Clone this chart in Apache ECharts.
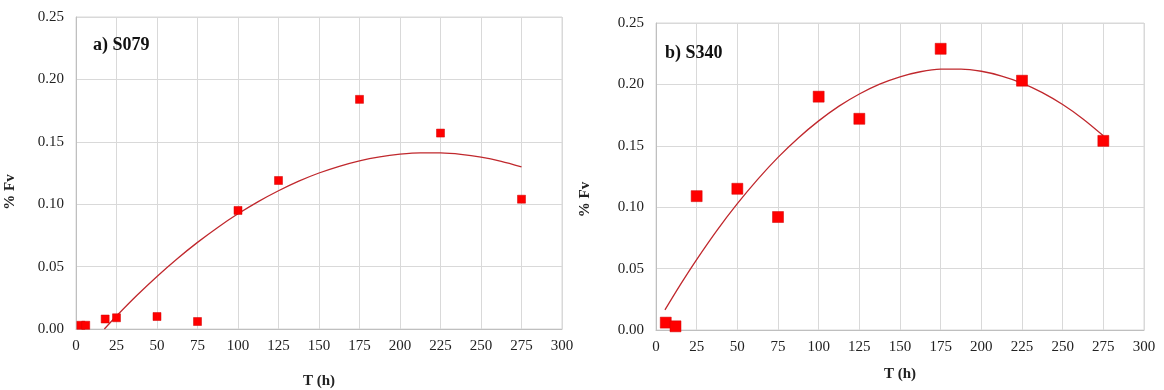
<!DOCTYPE html>
<html>
<head>
<meta charset="utf-8">
<script src="https://cdn.jsdelivr.net/npm/echarts@6/dist/echarts.min.js"></script>
<style>
html,body{margin:0;padding:0;background:#fff;}
#chart{width:1164px;height:390px;}
</style>
</head>
<body>
<div id="chart"></div>
<script>
// Panel a) S079
const tA = [3, 6, 18, 25, 50, 75, 100, 125, 175, 225, 275];
const fvA = [0.003, 0.003, 0.008, 0.009, 0.010, 0.006, 0.095, 0.119, 0.184, 0.157, 0.104];
// trend curve
const trendTA = [17.5, 25, 37.5, 50, 62.5, 75, 87.5, 100, 112.5, 125, 137.5, 150, 162.5, 175, 187.5, 200, 212.5, 225, 237.5, 250, 262.5, 275];
const trendFvA = [0.0000, 0.0104, 0.0268, 0.0421, 0.0563, 0.0694, 0.0814, 0.0923, 0.1021, 0.1108, 0.1185, 0.1250, 0.1304, 0.1348, 0.1380, 0.1401, 0.1412, 0.1411, 0.1400, 0.1378, 0.1344, 0.1300];

// Panel b) S340
const tB = [6, 12, 25, 50, 75, 100, 125, 175, 225, 275];
const fvB = [0.006, 0.003, 0.109, 0.115, 0.092, 0.190, 0.172, 0.229, 0.203, 0.154];
const trendTB = [5.5, 15, 25, 37.5, 50, 62.5, 75, 87.5, 100, 112.5, 125, 137.5, 150, 162.5, 175, 187.5, 200, 212.5, 225, 237.5, 250, 262.5, 275];
const trendFvB = [0.0164, 0.0370, 0.0574, 0.0812, 0.1029, 0.1227, 0.1406, 0.1564, 0.1703, 0.1823, 0.1922, 0.2002, 0.2062, 0.2103, 0.2124, 0.2125, 0.2107, 0.2068, 0.2011, 0.1933, 0.1836, 0.1719, 0.1582];

const titles = ['a) S079', 'b) S340'];
const xName = 'T (h)';
const yName = '% Fv';

const serif = '"Liberation Serif", "DejaVu Serif", serif';
const pairs = (xs, ys) => xs.map((x, i) => [x, ys[i]]);

function xAxisCfg(gi, gap) {
  return {
    type: 'value', gridIndex: gi, min: 0, max: 300, interval: 25,
    name: xName, nameLocation: 'middle', nameGap: gap,
    nameTextStyle: {fontFamily: serif, fontWeight: 'bold', fontSize: 15, color: '#222'},
    axisLine: {show: true, lineStyle: {color: '#bfbfbf', width: 1}},
    axisTick: {show: false},
    axisLabel: {fontFamily: serif, fontSize: 15, color: '#222', margin: 10},
    splitLine: {show: true, lineStyle: {color: '#d9d9d9', width: 1}}
  };
}
function yAxisCfg(gi, gap, pad) {
  return {
    type: 'value', gridIndex: gi, min: 0, max: 0.25, interval: 0.05,
    name: yName, nameLocation: 'middle', nameGap: gap, nameRotate: 90,
    nameTextStyle: {fontFamily: serif, fontWeight: 'bold', fontSize: 15, color: '#222', padding: pad},
    axisLine: {show: true, lineStyle: {color: '#bfbfbf', width: 1}},
    axisTick: {show: false},
    axisLabel: {fontFamily: serif, fontSize: 15, color: '#222', margin: 12,
      formatter: v => v.toFixed(2)},
    splitLine: {show: true, lineStyle: {color: '#d9d9d9', width: 1}}
  };
}

const chart = echarts.init(document.getElementById('chart'), null, {renderer: 'canvas'});
chart.setOption({
  backgroundColor: '#fff',
  animation: false,
  title: [
    {text: titles[0], left: 88, top: 31, textStyle: {fontFamily: serif, fontWeight: 'bold', fontSize: 18, color: '#111'}},
    {text: titles[1], left: 660, top: 39, textStyle: {fontFamily: serif, fontWeight: 'bold', fontSize: 18, color: '#111'}}
  ],
  grid: [
    {left: 76, right: 602, top: 17, bottom: 61, show: true, borderColor: '#d9d9d9', borderWidth: 1, outerBoundsMode: 'none', containLabel: false},
    {left: 656, right: 20, top: 23, bottom: 60, show: true, borderColor: '#d9d9d9', borderWidth: 1, outerBoundsMode: 'none', containLabel: false}
  ],
  xAxis: [xAxisCfg(0, 45), xAxisCfg(1, 37)],
  yAxis: [yAxisCfg(0, 58, [0, 38, 0, 0]), yAxisCfg(1, 63, [0, 46, 0, 0])],
  series: [
    {type: 'line', xAxisIndex: 0, yAxisIndex: 0, data: pairs(trendTA, trendFvA),
      smooth: 0.3, showSymbol: false, lineStyle: {color: '#c0282d', width: 1.3}, z: 2},
    {type: 'scatter', xAxisIndex: 0, yAxisIndex: 0, data: pairs(tA, fvA),
      symbol: 'rect', symbolSize: 8, itemStyle: {color: '#ff0000', opacity: 1, borderColor: '#d00000', borderWidth: 0.5}, z: 3},
    {type: 'line', xAxisIndex: 1, yAxisIndex: 1, data: pairs(trendTB, trendFvB),
      smooth: 0.3, showSymbol: false, lineStyle: {color: '#c0282d', width: 1.3}, z: 2},
    {type: 'scatter', xAxisIndex: 1, yAxisIndex: 1, data: pairs(tB, fvB),
      symbol: 'rect', symbolSize: 11, itemStyle: {color: '#ff0000', opacity: 1, borderColor: '#d00000', borderWidth: 0.5}, z: 3}
  ]
});
</script>
</body>
</html>
